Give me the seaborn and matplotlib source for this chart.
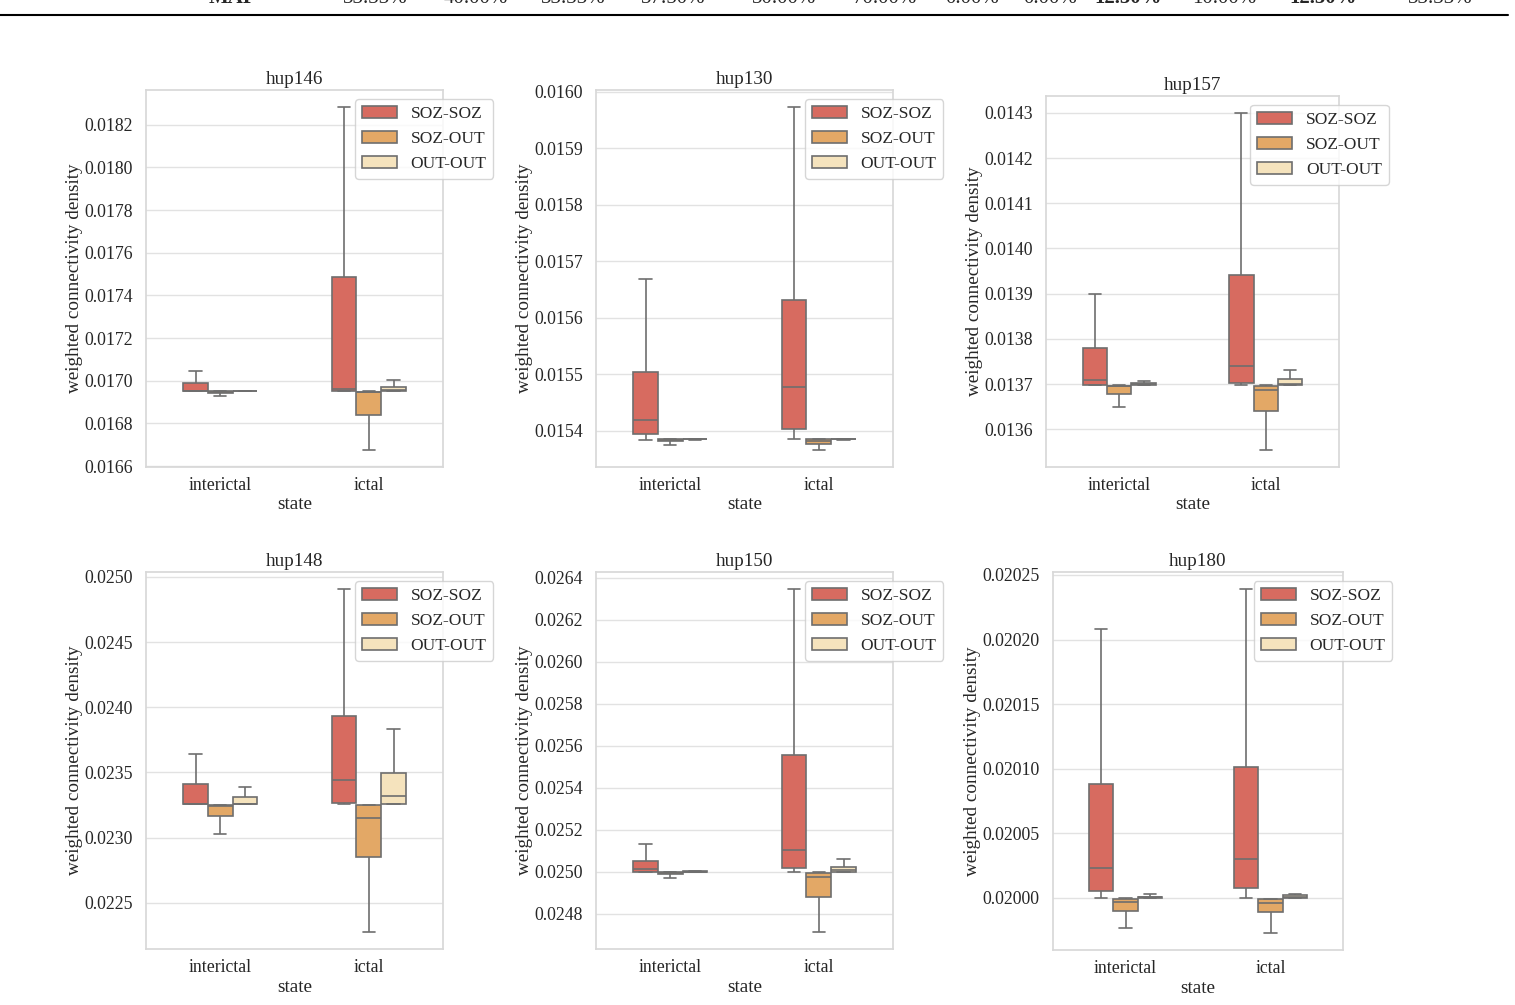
import numpy as np
import pandas as pd
import matplotlib
matplotlib.use("Agg")
import matplotlib.pyplot as plt
from matplotlib.ticker import MultipleLocator, FormatStrFormatter
import seaborn as sns

states = ["interictal", "ictal"]
types = ["SOZ-SOZ", "SOZ-OUT", "OUT-OUT"]
colors = ["#d76b60", "#e3a866", "#f5e3bd"]
subjects = ["hup146", "hup130", "hup157", "hup148", "hup150", "hup180"]

# five-number summaries read off the boxes: [low, q1, median, q3, high]
# one row per connection type (SOZ-SOZ, SOZ-OUT, OUT-OUT)
hup146_interictal = [[0.016950, 0.016951, 0.016953, 0.016989, 0.017044],
                     [0.016927, 0.016941, 0.016946, 0.016950, 0.016951],
                     [0.016950, 0.016951, 0.016952, 0.016953, 0.016954]]
hup146_ictal = [[0.016950, 0.016951, 0.016961, 0.017486, 0.018283],
                [0.016676, 0.016840, 0.016948, 0.016949, 0.016950],
                [0.016950, 0.016951, 0.016955, 0.016971, 0.017003]]

hup130_interictal = [[0.015384, 0.015394, 0.015419, 0.015504, 0.015668],
                     [0.015375, 0.015381, 0.015383, 0.015385, 0.015386],
                     [0.015384, 0.015385, 0.015385, 0.015385, 0.015386]]
hup130_ictal = [[0.015385, 0.015403, 0.015477, 0.015632, 0.015973],
                [0.015366, 0.015376, 0.015381, 0.015385, 0.015386],
                [0.015384, 0.015385, 0.015385, 0.015385, 0.015386]]

hup157_interictal = [[0.013698, 0.013699, 0.013710, 0.013779, 0.013899],
                     [0.013649, 0.013678, 0.013695, 0.013696, 0.013698],
                     [0.013698, 0.013698, 0.013701, 0.013703, 0.013708]]
hup157_ictal = [[0.013698, 0.013702, 0.013740, 0.013941, 0.014300],
                [0.013554, 0.013640, 0.013688, 0.013696, 0.013698],
                [0.013698, 0.013699, 0.013700, 0.013712, 0.013732]]

hup148_interictal = [[0.023257, 0.023258, 0.023262, 0.023411, 0.023640],
                     [0.023028, 0.023163, 0.023245, 0.023247, 0.023253],
                     [0.023258, 0.023258, 0.023262, 0.023311, 0.023390]]
hup148_ictal = [[0.023258, 0.023268, 0.023444, 0.023936, 0.024906],
                [0.022278, 0.022855, 0.023151, 0.023247, 0.023253],
                [0.023258, 0.023260, 0.023316, 0.023495, 0.023837]]

hup150_interictal = [[0.025000, 0.025001, 0.025014, 0.025053, 0.025133],
                     [0.024971, 0.024989, 0.024995, 0.024998, 0.025000],
                     [0.025000, 0.025000, 0.025001, 0.025002, 0.025004]]
hup150_ictal = [[0.025000, 0.025019, 0.025106, 0.025554, 0.026346],
                [0.024714, 0.024881, 0.024976, 0.024995, 0.025000],
                [0.025000, 0.025001, 0.025008, 0.025025, 0.025060]]

hup180_interictal = [[0.020000, 0.020005, 0.020023, 0.020088, 0.020208],
                     [0.019977, 0.019990, 0.019997, 0.019999, 0.020000],
                     [0.020000, 0.020000, 0.020001, 0.020001, 0.020003]]
hup180_ictal = [[0.020000, 0.020008, 0.020030, 0.020101, 0.020239],
                [0.019973, 0.019989, 0.019996, 0.019999, 0.0199995],
                [0.020000, 0.020000, 0.020001, 0.020002, 0.020003]]

summaries = {
    "hup146": [hup146_interictal, hup146_ictal],
    "hup130": [hup130_interictal, hup130_ictal],
    "hup157": [hup157_interictal, hup157_ictal],
    "hup148": [hup148_interictal, hup148_ictal],
    "hup150": [hup150_interictal, hup150_ictal],
    "hup180": [hup180_interictal, hup180_ictal],
}

# last row of the table that sits above the figure (cut off in the source)
table_row = ["MAP", "33.33%", "40.00%", "33.33%", "37.50%", "30.00%", "70.00%",
             "0.00%", "0.00%", "12.50%", "10.00%", "12.50%", "33.33%"]

rows = []
for subj, per_state in summaries.items():
    for state, boxes in zip(states, per_state):
        for t, vals in zip(types, boxes):
            for v in vals:
                rows.append({"subject": subj, "state": state, "type": t, "value": v})
df = pd.DataFrame(rows)

sns.set_theme(style="whitegrid", rc={"grid.color": "#e2e2e2",
                                     "axes.edgecolor": "#d8d8d8"})
plt.rcParams["font.family"] = ["Liberation Serif", "DejaVu Serif"]
plt.rcParams["font.size"] = 12.5
plt.rcParams["axes.titlesize"] = 13.8
plt.rcParams["axes.labelsize"] = 13.8
plt.rcParams["xtick.labelsize"] = 12.8
plt.rcParams["ytick.labelsize"] = 12.8
plt.rcParams["legend.fontsize"] = 12.5
plt.rcParams["xtick.major.pad"] = 1
plt.rcParams["axes.labelpad"] = 2

fig = plt.figure(figsize=(15.15, 10.05), dpi=100)

W, H = 1515, 1005
# pixel boxes (left, top, right, bottom) of each panel
boxes_px = {
    "hup146": (146, 90, 443, 467),
    "hup130": (596, 90, 893, 467),
    "hup157": (1046, 96, 1339, 467),
    "hup148": (146, 572, 443, 949),
    "hup150": (596, 572, 893, 949),
    "hup180": (1053, 572, 1343, 950),
}
tick_step = {"hup146": 0.0002, "hup130": 0.0001, "hup157": 0.0001,
             "hup148": 0.0005, "hup150": 0.0002, "hup180": 0.00005}
tick_fmt = {"hup146": "%.4f", "hup130": "%.4f", "hup157": "%.4f",
            "hup148": "%.4f", "hup150": "%.4f", "hup180": "%.5f"}

for subj in subjects:
    l, t, r, b = boxes_px[subj]
    ax = fig.add_axes([l / W, (H - b) / H, (r - l) / W, (b - t) / H])
    sub = df[df["subject"] == subj]
    sns.boxplot(data=sub, x="state", y="value", hue="type", order=states,
                hue_order=types, palette=colors, saturation=1, width=0.5,
                gap=0, whis=(0, 100), showfliers=False, linecolor="#6e6e6e",
                linewidth=1.2, ax=ax)
    ax.set_title(subj, pad=4)
    ax.set_xlabel("state")
    ax.set_ylabel("weighted connectivity density", labelpad=1)
    ax.yaxis.set_major_locator(MultipleLocator(tick_step[subj]))
    ax.yaxis.set_major_formatter(FormatStrFormatter(tick_fmt[subj]))
    ax.grid(axis="x", visible=False)
    sns.move_legend(ax, "upper right", bbox_to_anchor=(1.17, 0.976),
                    borderaxespad=0, title=None, frameon=True)

# table remnant at the top
xs = [232, 375, 476, 573, 673, 784, 885, 972, 1050, 1128, 1224, 1323, 1440]
bold = {0, 9, 11}
for i, (x, s) in enumerate(zip(xs, table_row)):
    fig.text(x / W, 1 - 3 / H, s, ha="center", va="baseline", fontsize=15,
             fontweight="bold" if i in bold else "normal")
fig.add_artist(plt.Line2D([0, 1508 / W], [1 - 15 / H, 1 - 15 / H],
                          color="black", linewidth=1.5))

fig.savefig("out.png", dpi=100)
